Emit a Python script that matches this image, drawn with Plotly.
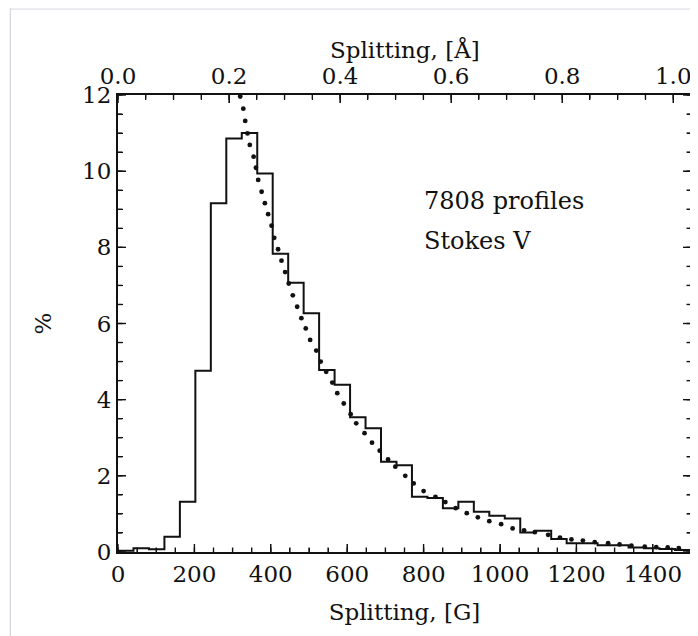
import plotly.graph_objects as go

# ---- data ----
bin_width_G = 40.5
hist_pct = [0.03, 0.10, 0.07, 0.40, 1.32, 4.76, 9.16, 10.86, 11.0, 9.94,
            7.83, 7.07, 6.27, 4.78, 4.39, 3.54, 3.25, 2.37, 2.28, 1.45,
            1.42, 1.15, 1.32, 1.06, 0.95, 0.88, 0.51, 0.56, 0.34, 0.23,
            0.23, 0.18, 0.18, 0.12, 0.10, 0.08, 0.05]
hist_edges_G = [k * bin_width_G for k in range(len(hist_pct) + 1)]

fit_G = [320, 328, 333, 339, 345, 355, 361, 367, 376, 384.5, 393, 402, 409,
         419, 428, 437.5, 447, 457.6, 469, 480, 491.5, 503, 519, 530.6, 545,
         561, 574, 591, 609, 623.6, 645.4, 665, 685, 707, 726, 752, 774, 800,
         831, 857, 884, 913, 942, 972, 1003, 1033, 1063, 1091, 1126, 1157,
         1187, 1217, 1248, 1283, 1313, 1344, 1379, 1409, 1439, 1468]
fit_pct = [11.96, 11.64, 11.32, 10.99, 10.69, 10.38, 10.09, 9.77, 9.46, 9.16,
           8.87, 8.57, 8.25, 7.95, 7.65, 7.35, 7.05, 6.74, 6.44, 6.14, 5.87,
           5.57, 5.29, 5.0, 4.73, 4.45, 4.17, 3.90, 3.62, 3.38, 3.12, 2.87,
           2.66, 2.43, 2.24, 2.0, 1.80, 1.60, 1.45, 1.31, 1.15, 1.02, 0.91,
           0.81, 0.73, 0.62, 0.57, 0.52, 0.45, 0.38, 0.33, 0.30, 0.26, 0.23,
           0.20, 0.17, 0.14, 0.13, 0.12, 0.10]

x_range_G = [0, 1500]
x_range_A = [0, 1.032]
y_range = [0, 12]
annot_lines = ["7808 profiles", "Stokes V"]

# tick values of the three scales
G_major = [0, 200, 400, 600, 800, 1000, 1200, 1400]
G_minor = [50 * k for k in range(31)]
A_major = [0.0, 0.2, 0.4, 0.6, 0.8, 1.0]
A_minor = [round(0.05 * k, 2) for k in range(21)]
Y_major = [0, 2, 4, 6, 8, 10, 12]
Y_minor = [0.5 * k for k in range(25)]

FONT = "DejaVu Serif"
INK = "#111111"

W, H = 690, 628
M = dict(l=110, r=5, t=87, b=84)
plot_w = W - M["l"] - M["r"]
plot_h = H - M["t"] - M["b"]

MAJ_PX, MIN_PX = 8, 4.5
maj_y = MAJ_PX * (y_range[1] - y_range[0]) / plot_h
min_y = MIN_PX * (y_range[1] - y_range[0]) / plot_h
maj_g = MAJ_PX * (x_range_G[1] - x_range_G[0]) / plot_w
min_g = MIN_PX * (x_range_G[1] - x_range_G[0]) / plot_w

fig = go.Figure()

fig.add_trace(go.Scatter(
    x=hist_edges_G, y=hist_pct + [hist_pct[-1]],
    mode="lines", line=dict(shape="hv", color=INK, width=2),
    showlegend=False, hoverinfo="skip"))

fig.add_trace(go.Scatter(
    x=fit_G, y=fit_pct, mode="markers",
    marker=dict(color=INK, size=4.8, symbol="circle"),
    showlegend=False, hoverinfo="skip"))

# inward tick marks (built from the tick value lists through the axes' scales)
def seg_x(vals, length, base):
    xs, ys = [], []
    for v in vals:
        xs += [v, v, None]
        ys += [base, base + length, None]
    return xs, ys

def seg_y(vals, length, base):
    xs, ys = [], []
    for v in vals:
        xs += [base, base + length, None]
        ys += [v, v, None]
    return xs, ys

tick_sets = []
bx1, by1 = seg_x(G_major, maj_y, y_range[0])
bx2, by2 = seg_x(G_minor, min_y, y_range[0])
tick_sets.append(("x", bx1 + bx2, by1 + by2))
tx1, ty1 = seg_x(A_major, -maj_y, y_range[1])
tx2, ty2 = seg_x(A_minor, -min_y, y_range[1])
tick_sets.append(("x2", tx1 + tx2, ty1 + ty2))
lx1, ly1 = seg_y(Y_major, maj_g, x_range_G[0])
lx2, ly2 = seg_y(Y_minor, min_g, x_range_G[0])
rx1, ry1 = seg_y(Y_major, -maj_g, x_range_G[1])
rx2, ry2 = seg_y(Y_minor, -min_g, x_range_G[1])
tick_sets.append(("x", lx1 + lx2 + rx1 + rx2, ly1 + ly2 + ry1 + ry2))

for xa, xs, ys in tick_sets:
    fig.add_trace(go.Scatter(x=xs, y=ys, xaxis=xa, yaxis="y", mode="lines",
                             line=dict(color=INK, width=1.4),
                             showlegend=False, hoverinfo="skip"))

tickfont = dict(family=FONT, size=23, color=INK)
axis_common = dict(
    showline=True, linewidth=2, linecolor=INK, ticks="inside",
    ticklen=MAJ_PX, tickwidth=1.4, tickcolor=INK, showgrid=False, zeroline=False,
    tickfont=tickfont,
)
minor_common = dict(ticks="inside", ticklen=MIN_PX, tickwidth=1.4, tickcolor=INK)

fig.update_layout(
    width=W, height=H,
    margin=M,
    paper_bgcolor="white", plot_bgcolor="rgba(0,0,0,0)",
    xaxis=dict(**axis_common, range=x_range_G, tickmode="array", tickvals=G_major,
               minor=dict(tickmode="array", tickvals=G_minor, **minor_common),
               title=dict(text="Splitting, [G]", font=tickfont, standoff=18)),
    xaxis2=dict(**axis_common, range=x_range_A, tickmode="array", tickvals=A_major,
                ticktext=[f"{a:.1f}" for a in A_major],
                minor=dict(tickmode="array", tickvals=A_minor, **minor_common),
                side="top", overlaying="x", anchor="y"),
    yaxis=dict(**axis_common, range=y_range, tickmode="array", tickvals=Y_major,
               mirror="ticks",
               minor=dict(tickmode="array", tickvals=Y_minor, **minor_common),
               title=dict(text="%", font=tickfont, standoff=24)),
)

# top axis title
fig.add_annotation(x=0.5, y=1.10, xref="paper", yref="paper",
                   text="Splitting, [Å]", showarrow=False,
                   xanchor="center", yanchor="middle", font=tickfont)

fig.add_annotation(x=795, y=9.22, xref="x", yref="y", text=annot_lines[0],
                   showarrow=False, xanchor="left", yanchor="middle",
                   font=dict(family=FONT, size=24, color=INK))
fig.add_annotation(x=795, y=8.17, xref="x", yref="y", text=annot_lines[1],
                   showarrow=False, xanchor="left", yanchor="middle",
                   font=dict(family=FONT, size=24, color=INK))

# slide-frame decoration (thin border lines)
fig.add_shape(type="line", xref="paper", yref="paper", x0=-0.188, x1=-0.188,
              y0=-0.2, y1=1.19, line=dict(color="#c9cbd6", width=1))
fig.add_shape(type="line", xref="paper", yref="paper", x0=-0.188, x1=1.02,
              y0=1.188, y1=1.188, line=dict(color="#d6d7de", width=1))

fig.write_html("out.html")
